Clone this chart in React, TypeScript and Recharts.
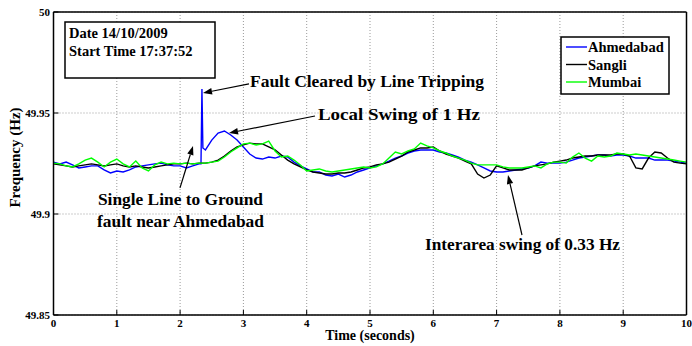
import React from "react";
import {
  LineChart,
  Line,
  XAxis,
  YAxis,
  CartesianGrid,
  Legend,
  ReferenceLine,
  ReferenceDot,
} from "recharts";

const FONT = "Liberation Serif, Times New Roman, serif";

// sampling grid, 0.1 s
const seconds: number[] = Array.from({ length: 101 }, (_, i) => i / 10);

const ahmedabad: number[] = [
  49.9257, 49.9248, 49.9257, 49.9243, 49.9228, 49.9233, 49.9238, 49.9238, 49.9218, 49.9203,
  49.9213, 49.9208, 49.9218, 49.9233, 49.9238, 49.9243, 49.9248, 49.9252, 49.9243, 49.9238,
  49.9238, 49.9228, 49.9238, 49.9248, 49.9317, 49.9366, 49.9401, 49.9411, 49.9391, 49.9366,
  49.9332, 49.9297, 49.9277, 49.9272, 49.9282, 49.9277, 49.9287, 49.9282, 49.9257, 49.9238,
  49.9223, 49.9208, 49.9208, 49.9193, 49.9188, 49.9198, 49.9183, 49.9193, 49.9208, 49.9218,
  49.9228, 49.9238, 49.9248, 49.9262, 49.9277, 49.9287, 49.9302, 49.9312, 49.9317, 49.9317,
  49.9317, 49.9307, 49.9302, 49.9292, 49.9282, 49.9267, 49.9257, 49.9243, 49.9228, 49.9213,
  49.9208, 49.9208, 49.9213, 49.9218, 49.9223, 49.9228, 49.9238, 49.9257, 49.9252, 49.9252,
  49.9252, 49.9257, 49.9267, 49.9277, 49.9282, 49.9287, 49.9292, 49.9292, 49.9287, 49.9292,
  49.9292, 49.9287, 49.9277, 49.9277, 49.9277, 49.9267, 49.9267, 49.9267, 49.9262, 49.9257,
  49.9252,
];
// the fault spike is narrower than the 0.1 s grid
const ahmedabadSpikeSeconds = [2.33, 2.345, 2.36];
const ahmedabadSpikeHz = [49.9248, 49.9619, 49.9327];

const sangli: number[] = [
  49.9248, 49.9243, 49.9238, 49.9233, 49.9238, 49.9243, 49.9248, 49.9243, 49.9238, 49.9243,
  49.9248, 49.9238, 49.9233, 49.9238, 49.9233, 49.9228, 49.9233, 49.9238, 49.9243, 49.9248,
  49.9248, 49.9252, 49.9248, 49.9252, 49.9252, 49.9257, 49.9267, 49.9287, 49.9312, 49.9332,
  49.9342, 49.9351, 49.9347, 49.9347, 49.9332, 49.9317, 49.9292, 49.9267, 49.9248, 49.9233,
  49.9218, 49.9208, 49.9203, 49.9198, 49.9198, 49.9203, 49.9203, 49.9208, 49.9218, 49.9228,
  49.9233, 49.9243, 49.9248, 49.9257, 49.9272, 49.9287, 49.9307, 49.9317, 49.9327, 49.9327,
  49.9332, 49.9312, 49.9297, 49.9287, 49.9277, 49.9262, 49.9248, 49.9198, 49.9178, 49.9193,
  49.9238, 49.9228, 49.9218, 49.9218, 49.9218, 49.9228, 49.9238, 49.9243, 49.9248, 49.9257,
  49.9262, 49.9267, 49.9277, 49.9282, 49.9287, 49.9287, 49.9292, 49.9292, 49.9292, 49.9297,
  49.9297, 49.9287, 49.9228, 49.9223, 49.9277, 49.9307, 49.9302, 49.9277, 49.9257, 49.9252,
  49.9248,
];

const mumbai: number[] = [
  49.9252, 49.9248, 49.9238, 49.9233, 49.9248, 49.9267, 49.9277, 49.9257, 49.9233, 49.9257,
  49.9272, 49.9248, 49.9233, 49.9262, 49.9228, 49.9213, 49.9243, 49.9257, 49.9248, 49.9252,
  49.9248, 49.9252, 49.9248, 49.9252, 49.9252, 49.9257, 49.9262, 49.9282, 49.9307, 49.9327,
  49.9347, 49.9351, 49.9342, 49.9347, 49.9361, 49.9312, 49.9282, 49.9287, 49.9267, 49.9243,
  49.9213, 49.9218, 49.9223, 49.9213, 49.9208, 49.9213, 49.9218, 49.9223, 49.9228, 49.9233,
  49.9228, 49.9233, 49.9248, 49.9277, 49.9307, 49.9297, 49.9312, 49.9322, 49.9351, 49.9337,
  49.9327, 49.9312, 49.9302, 49.9287, 49.9277, 49.9267, 49.9252, 49.9243, 49.9243, 49.9243,
  49.9243, 49.9233, 49.9228, 49.9228, 49.9228, 49.9233, 49.9238, 49.9228, 49.9248, 49.9257,
  49.9257, 49.9252, 49.9282, 49.9302, 49.9277, 49.9262, 49.9287, 49.9282, 49.9287, 49.9302,
  49.9297, 49.9292, 49.9297, 49.9292, 49.9287, 49.9282, 49.9277, 49.9272, 49.9267, 49.9262,
  49.9257,
];

const xTicks = [0, 1, 2, 3, 4, 5, 6, 7, 8, 9, 10];
const yTicks = [49.85, 49.9, 49.95, 50];

const seriesNames = ["Ahmedabad", "Sangli", "Mumbai"];
const seriesColors = ["#0000ff", "#000000", "#00ff00"];

// annotation text, placed in data units (time, Hz)
const notes = [
  { t: 3.104, hz: 49.9629, anchor: "start", lines: ["Fault Cleared by Line Tripping"], widths: [234] },
  { t: 4.178, hz: 49.9465, anchor: "start", lines: ["Local Swing of 1 Hz"], widths: [162] },
  { t: 2.006, hz: 49.9045, anchor: "middle", lines: ["Single Line to Ground", "fault near Ahmedabad"], widths: [165, 167] },
  { t: 5.869, hz: 49.8822, anchor: "start", lines: ["Interarea swing of 0.33 Hz"], widths: [195] },
];

const arrows = [
  { from: [3.088, 49.9644], to: [2.362, 49.9599] },
  { from: [4.131, 49.9485], to: [2.773, 49.9401] },
  { from: [1.998, 49.9129], to: [2.204, 49.9337] },
  { from: [7.401, 49.8896], to: [7.18, 49.9193] },
];

const rows = seconds.map((t, i) => ({ t, sangli: sangli[i], mumbai: mumbai[i] }));
const ahmedabadRows = [
  ...seconds.map((t, i) => ({ t, hz: ahmedabad[i] })),
  ...ahmedabadSpikeSeconds.map((t, i) => ({ t, hz: ahmedabadSpikeHz[i] })),
].sort((a, b) => a.t - b.t);

const ArrowShape = (p: any) => {
  const { x1, y1, x2, y2 } = p;
  const ang = Math.atan2(y2 - y1, x2 - x1);
  const len = 9;
  const half = 3.2;
  const bx = x2 - len * Math.cos(ang);
  const by = y2 - len * Math.sin(ang);
  const pts = `${x2},${y2} ${bx - half * Math.sin(ang)},${by + half * Math.cos(ang)} ${bx + half * Math.sin(ang)},${by - half * Math.cos(ang)}`;
  return (
    <g>
      <line x1={x1} y1={y1} x2={bx} y2={by} stroke="#000" strokeWidth={1.2} />
      <polygon points={pts} fill="#000" />
    </g>
  );
};

const noteShape = (n: (typeof notes)[number]) => (p: any) => (
  <g>
    {n.lines.map((s, i) => (
      <text
        key={s}
        x={p.cx}
        y={p.cy + i * 22}
        textAnchor={n.anchor}
        textLength={n.widths[i]}
        lengthAdjust="spacingAndGlyphs"
        style={{ fontFamily: FONT, fontWeight: "bold", fontSize: 17 }}
        fill="#000"
      >
        {s}
      </text>
    ))}
  </g>
);

const LegendBox = () => (
  <svg width={110} height={59}>
    <rect x={1} y={1} width={108} height={57} fill="#fff" stroke="#000" strokeWidth={1.5} />
    {seriesNames.map((name, i) => (
      <g key={name}>
        <line x1={6} x2={27} y1={11 + i * 17.5} y2={11 + i * 17.5} stroke={seriesColors[i]} strokeWidth={1.4} />
        <text x={28} y={16 + i * 17.5} style={{ fontFamily: FONT, fontWeight: "bold", fontSize: 14.5 }} fill="#000">
          {name}
        </text>
      </g>
    ))}
  </svg>
);

const tickStyle = { fill: "#000", fontSize: 11, fontWeight: "bold", fontFamily: FONT };
const axisLine = { stroke: "#000", strokeWidth: 1.5 };

export default function App() {
  return (
    <div
      style={{
        position: "absolute",
        left: 0,
        top: 0,
        width: 692,
        height: 346,
        background: "#fff",
        fontFamily: FONT,
        fontWeight: "bold",
      }}
    >
      <LineChart
        width={692}
        height={346}
        data={rows}
        margin={{ top: 0, right: 0, bottom: 0, left: 0 }}
        style={{ fontFamily: FONT, fontWeight: "bold" }}
      >
        <CartesianGrid stroke="#9a9a9a" strokeDasharray="1 2" />
        <XAxis
          dataKey="t"
          type="number"
          domain={[0, 10]}
          ticks={xTicks}
          interval={0}
          height={31}
          tickSize={-5}
          tickMargin={9}
          axisLine={axisLine}
          tickLine={{ stroke: "#000" }}
          tick={tickStyle}
          label={{ value: "Time (seconds)", position: "insideBottom", offset: 6, fill: "#000", fontSize: 14, fontWeight: "bold", fontFamily: FONT }}
        />
        <XAxis
          xAxisId="top"
          orientation="top"
          type="number"
          domain={[0, 10]}
          ticks={xTicks}
          interval={0}
          height={12}
          tickSize={-5}
          axisLine={axisLine}
          tickLine={{ stroke: "#000" }}
          tick={false}
        />
        <YAxis
          type="number"
          domain={[49.85, 50]}
          ticks={yTicks}
          interval={0}
          width={53.5}
          tickSize={-5}
          tickMargin={8.5}
          axisLine={axisLine}
          tickLine={{ stroke: "#000" }}
          tick={tickStyle}
          label={{ value: "Frequency (Hz)", angle: -90, position: "center", dx: -12, dy: -6, fill: "#000", fontSize: 15, fontWeight: "bold", fontFamily: FONT }}
        />
        <YAxis
          yAxisId="right"
          orientation="right"
          type="number"
          domain={[49.85, 50]}
          ticks={yTicks}
          interval={0}
          width={5.5}
          tickSize={-5}
          axisLine={axisLine}
          tickLine={{ stroke: "#000" }}
          tick={false}
        />
        <Line data={ahmedabadRows} dataKey="hz" name={seriesNames[0]} stroke={seriesColors[0]} strokeWidth={1.4} dot={false} type="linear" isAnimationActive={false} />
        <Line dataKey="sangli" name={seriesNames[1]} stroke={seriesColors[1]} strokeWidth={1.4} dot={false} type="linear" isAnimationActive={false} />
        <Line dataKey="mumbai" name={seriesNames[2]} stroke={seriesColors[2]} strokeWidth={1.4} dot={false} type="linear" isAnimationActive={false} />
        {arrows.map((a, i) => (
          <ReferenceLine
            key={`arrow-${i}`}
            segment={[{ x: a.from[0], y: a.from[1] }, { x: a.to[0], y: a.to[1] }]}
            shape={ArrowShape}
          />
        ))}
        {notes.map((n, i) => (
          <ReferenceDot key={`note-${i}`} x={n.t} y={n.hz} r={0} shape={noteShape(n)} />
        ))}
        <Legend
          layout="vertical"
          align="center"
          verticalAlign="middle"
          content={LegendBox}
          wrapperStyle={{ left: 560, top: 36, width: 110, height: 59 }}
        />
      </LineChart>
      <svg width={692} height={346} style={{ position: "absolute", left: 0, top: 0, pointerEvents: "none" }}>
        <rect x={65} y={22} width={150} height={56} fill="#fff" stroke="#000" strokeWidth={1.5} />
        <text x={69} y={38} style={{ fontFamily: FONT, fontWeight: "bold", fontSize: 14.5 }} fill="#000">
          Date 14/10/2009
        </text>
        <text x={69} y={56} style={{ fontFamily: FONT, fontWeight: "bold", fontSize: 14.5 }} fill="#000">
          Start Time 17:37:52
        </text>
      </svg>
    </div>
  );
}
